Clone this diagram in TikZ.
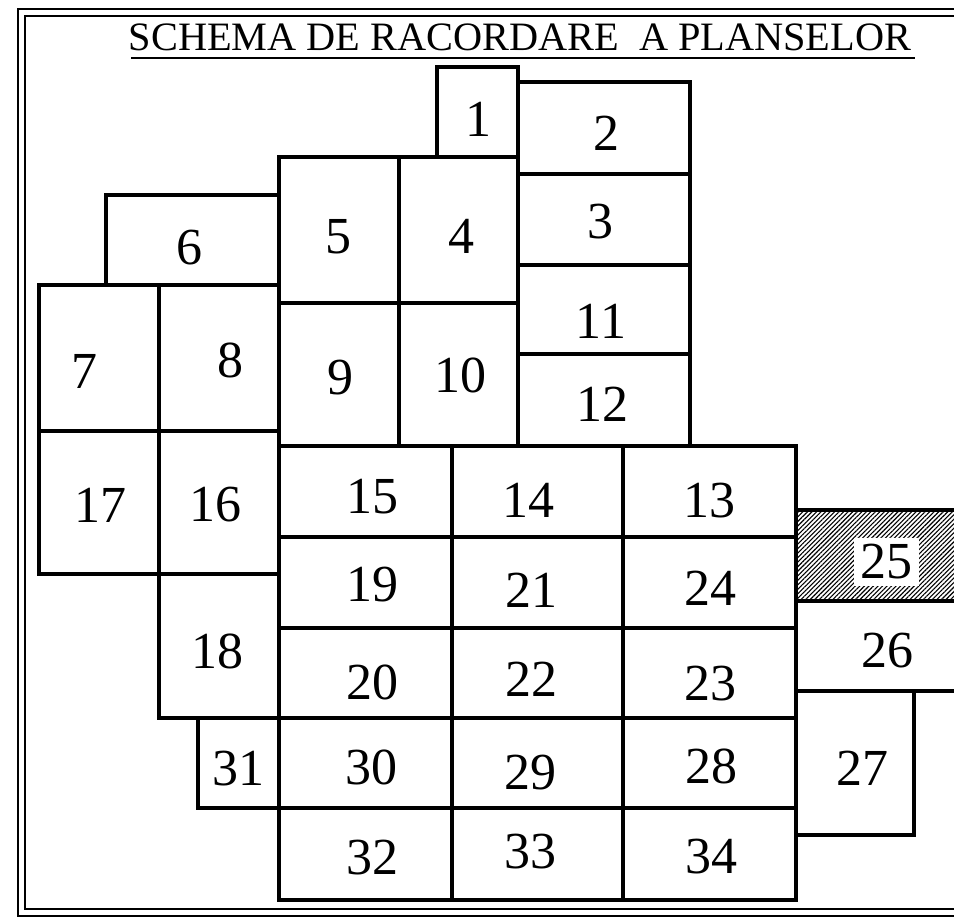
\documentclass[tikz,border=0pt]{standalone}
\usepackage{fontspec}
\setmainfont{Liberation Serif}
\usetikzlibrary{patterns.meta}
\tikzset{
  cell/.style={line width=3.4pt},
  frame/.style={line width=1.6pt},
  lbl/.style={font=\fontsize{52}{52}\selectfont, inner sep=0pt},
  ttl/.style={font=\fontsize{40.3}{40.3}\selectfont, inner sep=0pt, anchor=base}
}
\begin{document}
\begin{tikzpicture}[x=1pt,y=-1pt]
\useasboundingbox (0,0) rectangle (954,921);
\clip (0,0) rectangle (954,921);
\fill[white] (0,0) rectangle (954,921);
% double frame
\draw[frame] (18,9) rectangle (980,916);
\draw[frame] (25,16) rectangle (972,909);
% title
\node[ttl] (title) at (520,50) {SCHEMA DE RACORDARE~~A PLANSELOR};
\coordinate (ul1) at ([yshift=-8pt]title.base west);
\draw[frame] (ul1 -| 131,0) -- (ul1 -| 915,0);
% hatched sheet 25
\fill[pattern={Lines[angle=45,distance=3.2pt,line width=1.1pt]}] (796,510) rectangle (980,601);
% sheets
\draw[cell] (437,67) rectangle (518,157);
\draw[cell] (518,82) rectangle (690,174);
\draw[cell] (518,174) rectangle (690,265);
\draw[cell] (518,265) rectangle (690,354);
\draw[cell] (518,354) rectangle (690,446);
\draw[cell] (279,157) rectangle (399,303);
\draw[cell] (399,157) rectangle (518,303);
\draw[cell] (279,303) rectangle (399,446);
\draw[cell] (399,303) rectangle (518,446);
\draw[cell] (106,195) rectangle (279,285);
\draw[cell] (39,285) rectangle (159,431);
\draw[cell] (159,285) rectangle (279,431);
\draw[cell] (39,431) rectangle (159,574);
\draw[cell] (159,431) rectangle (279,574);
\draw[cell] (159,574) rectangle (279,718);
\draw[cell] (279,446) rectangle (452,537);
\draw[cell] (452,446) rectangle (623,537);
\draw[cell] (623,446) rectangle (796,537);
\draw[cell] (279,537) rectangle (452,628);
\draw[cell] (452,537) rectangle (623,628);
\draw[cell] (623,537) rectangle (796,628);
\draw[cell] (279,628) rectangle (452,718);
\draw[cell] (452,628) rectangle (623,718);
\draw[cell] (623,628) rectangle (796,718);
\draw[cell] (198,718) rectangle (279,808);
\draw[cell] (279,718) rectangle (452,808);
\draw[cell] (452,718) rectangle (623,808);
\draw[cell] (623,718) rectangle (796,808);
\draw[cell] (279,808) rectangle (452,900);
\draw[cell] (452,808) rectangle (623,900);
\draw[cell] (623,808) rectangle (796,900);
\draw[cell] (796,510) rectangle (980,601);
\draw[cell] (796,601) rectangle (980,691);
\draw[cell] (796,691) rectangle (914,835);
% labels
\node[lbl] (n1) at (478,119) {1};
\node[lbl] (n2) at (606,133) {2};
\node[lbl] (n3) at (600,222) {3};
\node[lbl] (n4) at (461,236) {4};
\node[lbl] (n5) at (338,237) {5};
\node[lbl] (n6) at (189,248) {6};
\node[lbl] (n7) at (84,371) {7};
\node[lbl] (n8) at (230,360) {8};
\node[lbl] (n9) at (340,378) {9};
\node[lbl] (n10) at (460,375) {10};
\node[lbl] (n11) at (601,321) {11};
\node[lbl] (n12) at (602,404) {12};
\node[lbl] (n13) at (709,501) {13};
\node[lbl] (n14) at (528,500) {14};
\node[lbl] (n15) at (372,497) {15};
\node[lbl] (n16) at (215,505) {16};
\node[lbl] (n17) at (100,505) {17};
\node[lbl] (n18) at (217,651) {18};
\node[lbl] (n19) at (372,585) {19};
\node[lbl] (n20) at (372,682) {20};
\node[lbl] (n21) at (531,590) {21};
\node[lbl] (n22) at (531,679) {22};
\node[lbl] (n23) at (710,684) {23};
\node[lbl] (n24) at (710,588) {24};
\node[lbl, fill=white, inner sep=6.5pt] (n25) at (886,562) {25};
\node[lbl] (n26) at (887,651) {26};
\node[lbl] (n27) at (862,768) {27};
\node[lbl] (n28) at (711,766) {28};
\node[lbl] (n29) at (530,773) {29};
\node[lbl] (n30) at (371,767) {30};
\node[lbl] (n31) at (238,769) {31};
\node[lbl] (n32) at (372,858) {32};
\node[lbl] (n33) at (530,852) {33};
\node[lbl] (n34) at (711,857) {34};
\end{tikzpicture}
\end{document}
